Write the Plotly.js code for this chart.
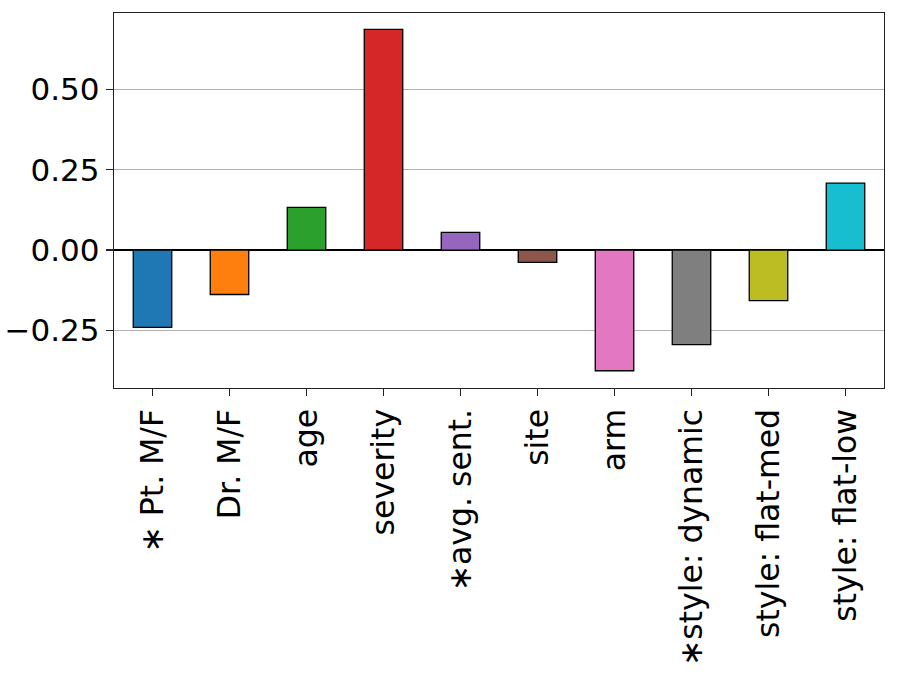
<!DOCTYPE html>
<html>
<head>
<meta charset="utf-8">
<script src="https://cdn.plot.ly/plotly-3.0.1.min.js"></script>
<style>html,body{margin:0;padding:0;background:#fff;}#chart{width:909px;height:676px;}</style>
</head>
<body>
<div id="chart"></div>
<script>
const categories = ["\u2217 Pt. M/F", "Dr. M/F", "age", "severity", "\u2217avg. sent.", "site", "arm", "\u2217style: dynamic", "style: flat-med", "style: flat-low"];
const values = [-0.240, -0.138, 0.133, 0.686, 0.055, -0.038, -0.375, -0.294, -0.157, 0.208];
const colors = ["#1f77b4", "#ff7f0e", "#2ca02c", "#d62728", "#9467bd", "#8c564b", "#e377c2", "#7f7f7f", "#bcbd22", "#17becf"];
const yTicks = [-0.25, 0, 0.25, 0.5];

const trace = {
  type: "bar",
  x: categories,
  y: values,
  width: 0.5,
  marker: {color: colors, line: {color: "#000", width: 1.3}},
  hoverinfo: "x+y"
};

const layout = {
  width: 909, height: 676,
  margin: {l: 114, r: 25, t: 13, b: 288},
  paper_bgcolor: "#fff", plot_bgcolor: "#fff",
  font: {family: "DejaVu Sans", size: 31, color: "#000"},
  showlegend: false,
  xaxis: {
    type: "category",
    range: [-0.5, 9.5],
    tickangle: -90,
    ticks: "outside", ticklen: 7, tickwidth: 1.3, tickcolor: "#222",
    showline: true, mirror: true, linecolor: "#222", linewidth: 1.3,
    showgrid: false, zeroline: false,
    tickfont: {family: "DejaVu Sans", size: 31.5, color: "#000"}
  },
  yaxis: {
    range: [-0.4286, 0.737],
    tickvals: yTicks,
    tickformat: ".2f",
    ticks: "outside", ticklen: 7, tickwidth: 1.3, tickcolor: "#222",
    showline: true, mirror: true, linecolor: "#222", linewidth: 1.3,
    showgrid: true, gridcolor: "#b0b0b0", gridwidth: 1,
    zeroline: true, zerolinecolor: "#000", zerolinewidth: 2.5,
    tickfont: {family: "DejaVu Sans", size: 31, color: "#000"}
  }
};

Plotly.newPlot("chart", [trace], layout, {displayModeBar: false, staticPlot: true});
</script>
</body>
</html>
